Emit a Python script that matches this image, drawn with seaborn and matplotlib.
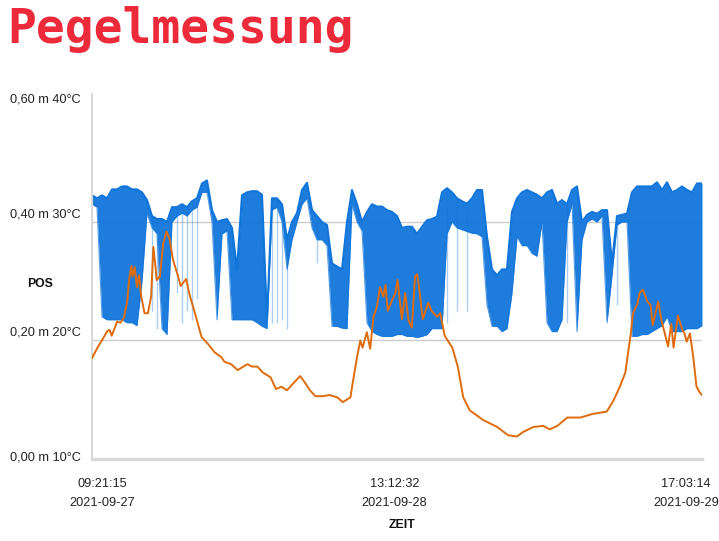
import numpy as np
import pandas as pd
import matplotlib
matplotlib.use("Agg")
import matplotlib.pyplot as plt
import matplotlib.dates as mdates
import seaborn as sns

sns.set_theme(style="white")
plt.rcParams["font.family"] = ["Liberation Sans", "DejaVu Sans"]

start = pd.Timestamp("2021-09-27 09:21:15")
end = pd.Timestamp("2021-09-29 17:03:14")

# Pegel (m): upper / lower edge of the fast switching signal, regular samples start..end
pegel_hi = [0.445, 0.440, 0.445, 0.440, 0.455, 0.455, 0.460, 0.460, 0.455, 0.455,
            0.450, 0.437, 0.410, 0.405, 0.405, 0.400, 0.425, 0.425, 0.430, 0.425,
            0.435, 0.440, 0.465, 0.470, 0.420, 0.400, 0.403, 0.405, 0.390, 0.320,
            0.445, 0.450, 0.452, 0.452, 0.446, 0.235, 0.440, 0.440, 0.430, 0.370,
            0.400, 0.415, 0.454, 0.466, 0.420, 0.410, 0.400, 0.395, 0.330, 0.325,
            0.320, 0.400, 0.454, 0.430, 0.400, 0.417, 0.430, 0.426, 0.426, 0.420,
            0.417, 0.410, 0.390, 0.392, 0.392, 0.380, 0.392, 0.403, 0.405, 0.409,
            0.450, 0.457, 0.450, 0.440, 0.435, 0.431, 0.440, 0.454, 0.454, 0.375,
            0.320, 0.310, 0.320, 0.320, 0.417, 0.440, 0.450, 0.454, 0.450, 0.446,
            0.440, 0.450, 0.454, 0.431, 0.437, 0.430, 0.454, 0.460, 0.400, 0.412,
            0.417, 0.414, 0.420, 0.420, 0.330, 0.410, 0.412, 0.414, 0.450, 0.460,
            0.460, 0.460, 0.460, 0.467, 0.454, 0.467, 0.450, 0.454, 0.460, 0.454,
            0.450, 0.465, 0.465]
pegel_lo = [0.430, 0.425, 0.240, 0.235, 0.235, 0.235, 0.235, 0.230, 0.230, 0.225,
            0.300, 0.415, 0.390, 0.380, 0.220, 0.210, 0.400, 0.410, 0.415, 0.410,
            0.420, 0.425, 0.450, 0.450, 0.400, 0.235, 0.380, 0.385, 0.235, 0.235,
            0.235, 0.235, 0.235, 0.230, 0.224, 0.220, 0.420, 0.425, 0.400, 0.320,
            0.370, 0.400, 0.430, 0.440, 0.390, 0.370, 0.370, 0.360, 0.224, 0.224,
            0.221, 0.220, 0.430, 0.400, 0.385, 0.230, 0.215, 0.210, 0.207, 0.207,
            0.207, 0.210, 0.210, 0.207, 0.207, 0.205, 0.207, 0.210, 0.220, 0.220,
            0.220, 0.380, 0.400, 0.390, 0.387, 0.384, 0.381, 0.380, 0.375, 0.260,
            0.224, 0.224, 0.215, 0.220, 0.280, 0.375, 0.360, 0.360, 0.347, 0.342,
            0.400, 0.230, 0.215, 0.215, 0.235, 0.400, 0.430, 0.215, 0.370, 0.400,
            0.405, 0.400, 0.410, 0.230, 0.310, 0.395, 0.400, 0.400, 0.207, 0.207,
            0.210, 0.210, 0.215, 0.220, 0.225, 0.240, 0.215, 0.215, 0.215, 0.220,
            0.220, 0.220, 0.225]

# single short drops (sample index, lowest level)
spike_idx = [12, 13, 17, 18, 19, 20, 21, 36, 37, 38, 39, 45, 71, 73, 75, 95, 105]
spike_lo = [0.25, 0.22, 0.28, 0.23, 0.25, 0.235, 0.27, 0.23, 0.23, 0.235, 0.22,
            0.33, 0.23, 0.25, 0.25, 0.23, 0.26]

# Temperatur (°C), hours since start
temp_h = [0.0, 0.5, 0.9, 1.4, 1.6, 1.8, 2.3, 2.6, 2.9, 3.2,
          3.4, 3.6, 3.7, 3.9, 4.1, 4.3, 4.5, 4.8, 5.1, 5.4,
          5.6, 5.8, 5.9, 6.2, 6.5, 6.8, 7.1, 7.4, 7.8, 8.1,
          8.6, 8.9, 9.4, 10.0, 10.6, 11.2, 11.8, 12.1, 12.7, 13.3,
          14.0, 14.2, 14.6, 15.1, 15.6, 16.3, 16.8, 17.3, 17.8, 18.4,
          19.0, 19.4, 19.9, 20.4, 21.1, 21.7, 22.4, 22.9, 23.6, 23.8,
          24.2, 24.5, 24.7, 25.1, 25.4, 25.7, 26.0, 26.3, 26.6, 26.8,
          27.0, 27.4, 27.7, 27.9, 28.3, 28.6, 28.9, 29.2, 29.5, 29.7,
          29.9, 30.2, 30.7, 31.0, 31.5, 31.8, 32.2, 32.9, 33.4, 33.9,
          34.5, 35.7, 37.0, 38.0, 38.8, 39.4, 40.3, 41.2, 41.8, 42.5,
          43.4, 44.6, 45.7, 47.0, 47.6, 48.2, 48.7, 48.9, 49.2, 49.4,
          49.8, 50.0, 50.3, 50.7, 51.0, 51.2, 51.7, 52.0, 52.3, 52.6,
          52.9, 53.1, 53.5, 53.9, 54.1, 54.3, 54.6, 54.9, 55.2, 55.5,
          55.7]
temp_c = [18.5, 19.4, 20.0, 20.8, 20.9, 20.4, 21.6, 21.5, 21.9, 23.2,
          25.2, 26.3, 25.4, 26.2, 24.5, 25.5, 23.7, 22.3, 22.3, 23.7,
          27.9, 26.2, 25.1, 25.4, 28.2, 29.2, 28.5, 26.8, 25.6, 24.6,
          25.2, 23.9, 22.3, 20.3, 19.7, 19.0, 18.6, 18.2, 18.0, 17.5,
          17.9, 18.0, 17.8, 17.8, 17.3, 16.9, 15.9, 16.1, 15.8, 16.4,
          17.0, 16.5, 15.8, 15.3, 15.3, 15.4, 15.2, 14.8, 15.2, 16.4,
          18.6, 20.0, 19.4, 20.7, 19.3, 22.0, 22.8, 24.5, 23.7, 24.7,
          22.5, 23.4, 24.0, 25.1, 21.8, 24.0, 21.7, 21.1, 25.4, 25.6,
          24.2, 21.8, 23.2, 22.5, 22.0, 22.3, 20.4, 19.4, 17.8, 15.2,
          14.1, 13.3, 12.7, 12.0, 11.9, 12.3, 12.7, 12.8, 12.5, 12.8,
          13.5, 13.5, 13.8, 14.0, 14.9, 16.1, 17.3, 18.6, 20.6, 22.3,
          23.1, 24.0, 24.3, 23.3, 23.0, 21.3, 23.3, 21.7, 20.6, 19.5,
          21.4, 19.4, 22.1, 20.9, 20.6, 19.9, 20.6, 18.6, 16.1, 15.6,
          15.4]

x_ticks = ["2021-09-27 09:21:15", "2021-09-28 13:12:32", "2021-09-29 17:03:14"]
y_ticks = [0.0, 0.2, 0.4, 0.6]
y_labels = ["0,00 m 10°C", "0,20 m 20°C", "0,40 m 30°C", "0,60 m 40°C"]

BLUE = "#1075db"
ORANGE = "#df6c0c"
TXT = "#222222"

df_pegel = pd.DataFrame({
    "zeit": pd.date_range(start, end, periods=len(pegel_hi)),
    "hi": pegel_hi,
    "lo": pegel_lo,
})
df_temp = pd.DataFrame({
    "zeit": start + pd.to_timedelta(temp_h, unit="h"),
    "temp": temp_c,
})
# same axis: 0 m <-> 10 °C, 0.6 m <-> 40 °C
df_temp["pos"] = (df_temp["temp"] - 10) / 50

fig = plt.figure(figsize=(7.19, 5.41), dpi=100)
ax = fig.add_axes([92 / 719, 82 / 541, 610 / 719, 365 / 541])

for y in y_ticks[1:-1]:
    ax.axhline(y, color="#cccccc", lw=1, zorder=0)

ax.fill_between(df_pegel["zeit"], df_pegel["lo"], df_pegel["hi"],
                color=BLUE, lw=0, alpha=0.95, zorder=2)
sns.lineplot(data=df_pegel, x="zeit", y="hi", color=BLUE, lw=1.5, ax=ax, zorder=2)
sns.lineplot(data=df_pegel, x="zeit", y="lo", color=BLUE, lw=0.8, alpha=0.7, ax=ax, zorder=2)
ax.vlines(df_pegel["zeit"].iloc[spike_idx], spike_lo, df_pegel["hi"].iloc[spike_idx],
          color=BLUE, alpha=0.35, lw=1, zorder=2)
sns.lineplot(data=df_temp, x="zeit", y="pos", color=ORANGE, lw=1.4, ax=ax, zorder=3)

ax.set_xlim(start, end)
ax.set_ylim(0, 0.616)
ax.set_xlabel("")
ax.set_ylabel("")
ax.set_xticks([])
ax.set_yticks([])

# tick labels placed like the reference (labels kept inside the figure)
y_shift = [2, 8, 7, 4]
for y, lab, dy in zip(y_ticks, y_labels, y_shift):
    ax.annotate(lab, xy=(0, y), xycoords=("axes fraction", "data"), xytext=(-11, dy),
                textcoords="offset pixels", ha="right", va="center", fontsize=9.2, color=TXT)

tick_ts = pd.to_datetime(x_ticks)
x_shift = [10, -2.5, -16]
for t, dx in zip(tick_ts, x_shift):
    ax.annotate(t.strftime("%H:%M:%S\n%Y-%m-%d"), xy=(mdates.date2num(t), 0),
                xycoords=("data", "axes fraction"), xytext=(dx, -19),
                textcoords="offset pixels", ha="center", va="top", fontsize=9.2,
                color=TXT, linespacing=1.75)

for side in ["top", "right"]:
    ax.spines[side].set_visible(False)
ax.spines["left"].set_color("#d9d9d9")
ax.spines["left"].set_linewidth(1.5)
ax.spines["bottom"].set_color("#d9d9d9")
ax.spines["bottom"].set_linewidth(2.5)

fig.text(7 / 719, 1 - 43 / 541, "Pegelmessung", family="DejaVu Sans Mono", weight="bold",
         fontsize=34.6, color="#ec2a3a", ha="left", va="baseline")
fig.text(40 / 719, 1 - 284 / 541, "POS", fontsize=8.8, weight="bold", color="#111111",
         ha="center", va="center")
fig.text(402 / 719, 1 - 525 / 541, "ZEIT", fontsize=8.8, weight="bold", color="#111111",
         ha="center", va="center")

fig.savefig("out.png", dpi=100)
